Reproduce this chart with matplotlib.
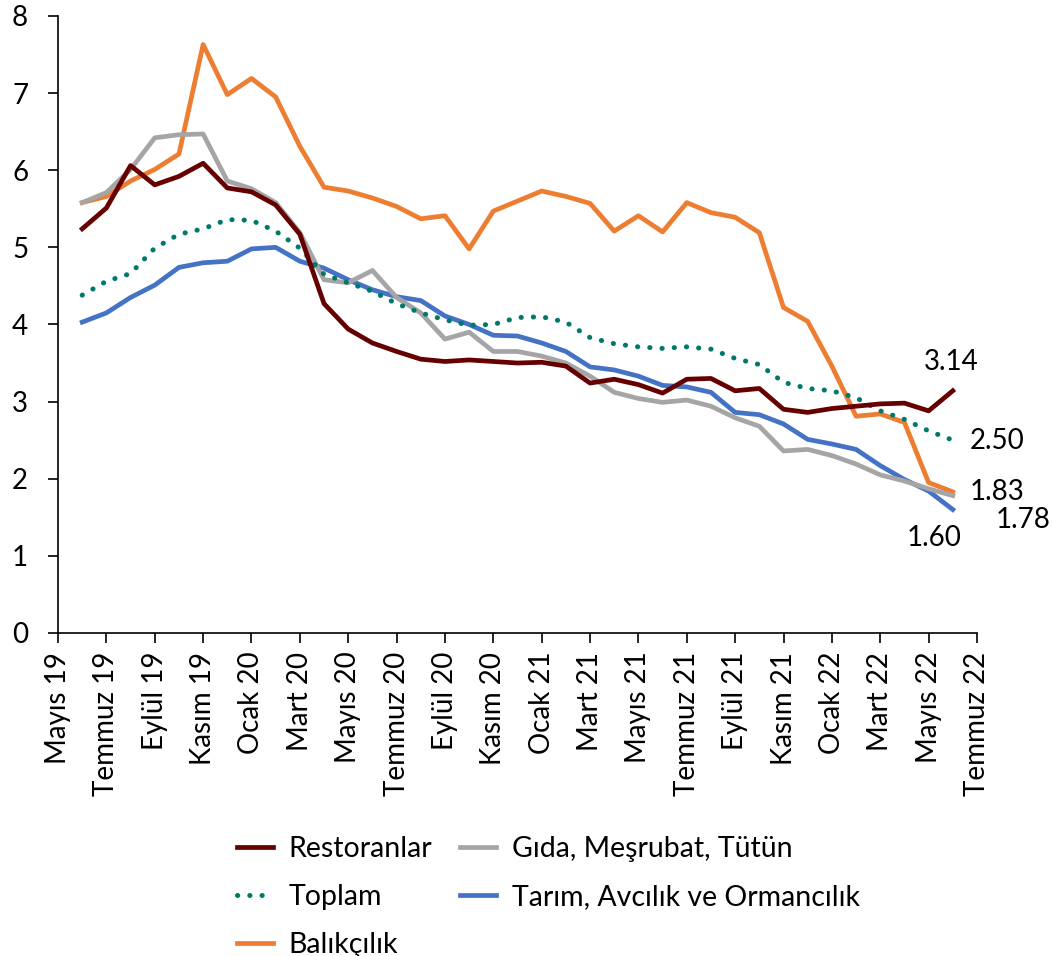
import matplotlib.pyplot as plt
import numpy as np

# Aylık seriler: Haziran 19 - Haziran 22
restoranlar = [5.24, 5.51, 6.06, 5.81, 5.92, 6.09, 5.77, 5.72, 5.55, 5.17,
               4.27, 3.94, 3.76, 3.65, 3.55, 3.52, 3.54, 3.52, 3.50, 3.51,
               3.46, 3.24, 3.29, 3.22, 3.11, 3.29, 3.30, 3.14, 3.17, 2.90,
               2.86, 2.91, 2.94, 2.97, 2.98, 2.88, 3.14]
gida = [5.58, 5.71, 6.01, 6.42, 6.46, 6.47, 5.86, 5.76, 5.58, 5.19,
        4.58, 4.54, 4.70, 4.35, 4.15, 3.81, 3.90, 3.65, 3.65, 3.59,
        3.50, 3.33, 3.12, 3.04, 2.99, 3.02, 2.94, 2.79, 2.68, 2.36,
        2.38, 2.30, 2.19, 2.05, 1.97, 1.87, 1.78]
toplam = [4.38, 4.56, 4.66, 4.99, 5.17, 5.24, 5.36, 5.35, 5.21, 4.99,
          4.65, 4.54, 4.43, 4.27, 4.15, 4.06, 3.99, 4.00, 4.09, 4.10,
          4.03, 3.83, 3.75, 3.71, 3.69, 3.71, 3.68, 3.56, 3.48, 3.25,
          3.17, 3.14, 3.05, 2.88, 2.77, 2.62, 2.50]
tarim = [4.03, 4.15, 4.35, 4.51, 4.74, 4.80, 4.82, 4.98, 5.00, 4.82,
         4.73, 4.58, 4.45, 4.36, 4.31, 4.11, 4.00, 3.86, 3.85, 3.76,
         3.65, 3.45, 3.41, 3.33, 3.21, 3.19, 3.12, 2.86, 2.83, 2.71,
         2.51, 2.45, 2.38, 2.17, 1.99, 1.84, 1.60]
balikcilik = [5.58, 5.66, 5.86, 6.01, 6.21, 7.63, 6.98, 7.19, 6.95, 6.31,
              5.78, 5.73, 5.64, 5.53, 5.37, 5.41, 4.98, 5.47, 5.60, 5.73,
              5.66, 5.57, 5.21, 5.41, 5.20, 5.58, 5.45, 5.39, 5.19, 4.22,
              4.04, 3.46, 2.81, 2.84, 2.73, 1.95, 1.83]

ay_etiketleri = ['Mayıs 19', 'Temmuz 19', 'Eylül 19', 'Kasım 19', 'Ocak 20',
                 'Mart 20', 'Mayıs 20', 'Temmuz 20', 'Eylül 20', 'Kasım 20',
                 'Ocak 21', 'Mart 21', 'Mayıs 21', 'Temmuz 21', 'Eylül 21',
                 'Kasım 21', 'Ocak 22', 'Mart 22', 'Mayıs 22', 'Temmuz 22']

yazi = ['Lato', 'DejaVu Sans']
plt.rcParams['font.family'] = yazi

x = np.arange(len(restoranlar))
fig = plt.figure(figsize=(10.53, 9.56), dpi=100)
ax = fig.add_axes([0.0551, 0.3379, 0.8727, 0.6454])

lw = 3.4
ax.plot(x, balikcilik, color='#ED7D31', lw=lw, zorder=2, label='Balıkçılık')
ax.plot(x, tarim, color='#4472C4', lw=lw, zorder=3, label='Tarım, Avcılık ve Ormancılık')
ax.plot(x, gida, color='#A5A5A5', lw=lw, zorder=4, label='Gıda, Meşrubat, Tütün')
ax.plot(x, toplam, color='#00796B', lw=3.6, zorder=5, linestyle=(0, (0.05, 2.4)),
        dash_capstyle='round', label='Toplam')
ax.plot(x, restoranlar, color='#660000', lw=lw, zorder=6, label='Restoranlar')

# Son değer etiketleri (piksel kaydırmaları)
son = len(x) - 1
etiketler = [(restoranlar[-1], (-2, 29)),
             (toplam[-1], (44, -1)),
             (balikcilik[-1], (44, 0)),
             (gida[-1], (70, -24)),
             (tarim[-1], (-19, -28))]
for deger, kay in etiketler:
    ax.annotate(f'{deger:.2f}', (son, deger), xytext=kay, textcoords='offset pixels',
                fontsize=20, ha='center', va='center')

ax.set_xlim(-1, 37)
ax.set_ylim(0, 8)
ax.set_xticks(np.arange(-1, 38, 2))
ax.set_xticklabels(ay_etiketleri, rotation=90, fontsize=20)
ax.set_yticks(range(0, 9))
ax.tick_params(axis='y', labelsize=20, pad=14)
ax.tick_params(axis='x', pad=6)
ax.tick_params(axis='both', direction='out', length=7.5, width=1.2, color='black')
ax.spines['top'].set_visible(False)
ax.spines['right'].set_visible(False)
ax.spines['left'].set_linewidth(1.2)
ax.spines['bottom'].set_linewidth(1.2)

h, l = ax.get_legend_handles_labels()
sira = [4, 3, 0, 2, 1]
fig.legend([h[i] for i in sira], [l[i] for i in sira], ncol=2, frameon=False,
           loc='upper left', bbox_to_anchor=(0.225, 0.126), prop={'size': 20.5},
           handlelength=1.25, handletextpad=0.55, columnspacing=1.0, labelspacing=0.78,
           borderpad=0, borderaxespad=0)

fig.savefig('out.png', dpi=100)
